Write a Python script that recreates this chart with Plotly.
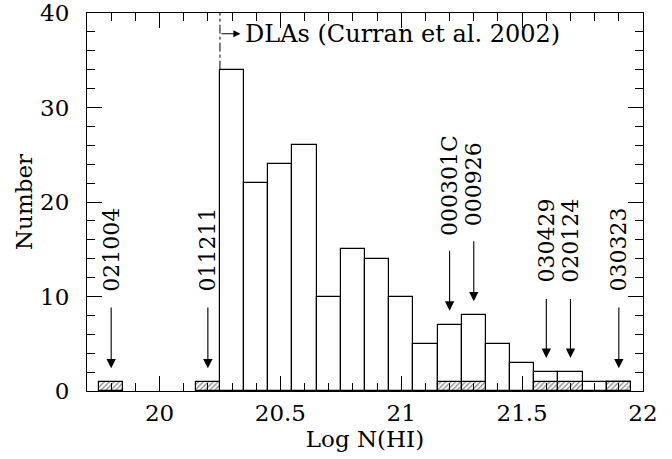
import plotly.graph_objects as go

# Histogram of log N(HI) for DLAs (bins of 0.1 dex)
bin_centers = [20.3, 20.4, 20.5, 20.6, 20.7, 20.8, 20.9, 21.0, 21.1,
               21.2, 21.3, 21.4, 21.5, 21.6, 21.7, 21.8, 21.9]
dla_counts = [34, 22, 24, 26, 10, 15, 14, 10, 5, 7, 8, 5, 3, 2, 2, 1, 1]

# GRB hosts (hatched)
grb_names = ["021004", "011211", "000301C", "000926", "030429", "020124", "030323"]
grb_logn = [19.8, 20.2, 21.2, 21.3, 21.6, 21.7, 21.9]
grb_counts = [1, 1, 1, 1, 1, 1, 1]
# arrow tail / tip and text base (in counts)
arrow_tail = [9.0, 9.0, 15.0, 16.0, 9.9, 9.9, 9.0]
arrow_tip = [2.4, 2.4, 8.5, 9.5, 3.5, 3.5, 2.4]
label_base = [10.3, 10.3, 16.2, 17.2, 11.3, 11.3, 10.3]

bin_width = 0.1
dla_limit = 20.25
dla_label = "DLAs (Curran et al. 2002)"

FONT = "DejaVu Serif"

fig = go.Figure()
fig.add_trace(go.Bar(
    x=bin_centers, y=dla_counts, width=bin_width,
    marker=dict(color="white", line=dict(color="black", width=1.2)),
    showlegend=False, hoverinfo="skip"))
fig.add_trace(go.Bar(
    x=grb_logn, y=grb_counts, width=bin_width,
    marker=dict(color="white", line=dict(color="black", width=1.2),
                pattern=dict(shape="/", fgcolor="black", bgcolor="white",
                             size=3.5, solidity=0.35)),
    showlegend=False, hoverinfo="skip"))

annotations = []
for name, x, tail, tip, base in zip(grb_names, grb_logn, arrow_tail, arrow_tip, label_base):
    annotations.append(dict(
        x=x, y=tip, ax=x, ay=tail, axref="x", ayref="y", xref="x", yref="y",
        text="", showarrow=True, arrowhead=2, arrowsize=1.7, arrowwidth=1.1,
        arrowcolor="black"))
    annotations.append(dict(
        x=x, y=base, xref="x", yref="y", text=name, textangle=-90,
        showarrow=False, xanchor="center", yanchor="bottom",
        font=dict(family=FONT, size=22, color="black")))

# DLA limit arrow and label
annotations.append(dict(
    x=dla_limit + 0.085, y=37.8, ax=dla_limit, ay=37.8, axref="x", ayref="y",
    xref="x", yref="y", text="", showarrow=True, arrowhead=2, arrowsize=1.3,
    arrowwidth=1.1, arrowcolor="black"))
annotations.append(dict(
    x=dla_limit + 0.095, y=37.8, xref="x", yref="y", text=dla_label,
    showarrow=False, xanchor="left", yanchor="middle",
    font=dict(family=FONT, size=24, color="black")))

fig.add_shape(type="line", x0=dla_limit, x1=dla_limit, y0=dla_counts[0], y1=40,
              xref="x", yref="y", line=dict(color="black", width=1, dash="dashdot"))

fig.update_layout(
    width=672, height=459,
    margin=dict(l=87, r=29, t=13, b=68),
    paper_bgcolor="white", plot_bgcolor="white",
    barmode="overlay", bargap=0,
    font=dict(family=FONT, size=23, color="black"),
    annotations=annotations,
    xaxis=dict(range=[19.7, 22], tickvals=[20, 20.5, 21, 21.5, 22],
               ticktext=["20", "20.5", "21", "21.5", "22"],
               ticks="inside", ticklen=15, tickwidth=1, tickcolor="black",
               minor=dict(dtick=0.1, tick0=0, ticks="inside", ticklen=8,
                          tickwidth=1, tickcolor="black"),
               showline=True, linecolor="black", linewidth=1.2, mirror="allticks",
               showgrid=False, zeroline=False, ticklabelstandoff=1,
               automargin=False,
               title=dict(text="Log N(HI)", standoff=4,
                          font=dict(family=FONT, size=23))),
    yaxis=dict(range=[0, 40], tickvals=[0, 10, 20, 30, 40],
               ticks="inside", ticklen=15, tickwidth=1, tickcolor="black",
               minor=dict(dtick=2, ticks="inside", ticklen=8,
                          tickwidth=1, tickcolor="black"),
               showline=True, linecolor="black", linewidth=1.2, mirror="allticks",
               showgrid=False, zeroline=False, ticklabelstandoff=12,
               automargin=False,
               title=dict(text="Number", standoff=0,
                          font=dict(family=FONT, size=23))),
)

fig.write_html("out.html", config={"displayModeBar": False},
               post_script="document.body.style.margin='0';")
